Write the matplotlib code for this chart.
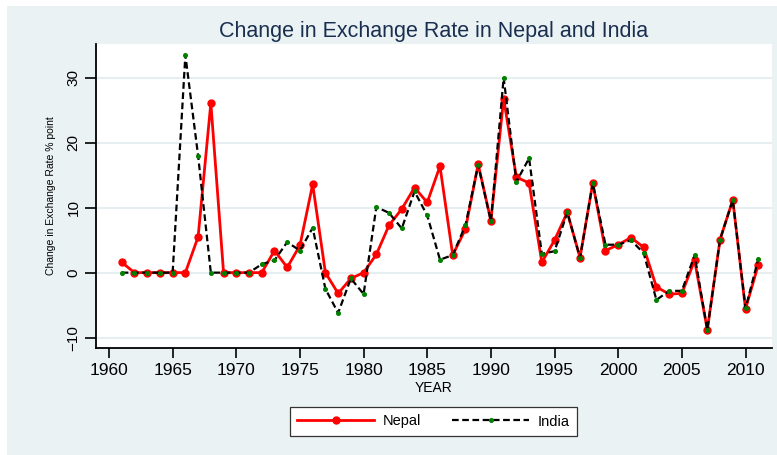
import matplotlib
matplotlib.use("Agg")
import matplotlib.pyplot as plt
from matplotlib.patches import Rectangle

years = list(range(1961, 2012))
nepal = [1.6, 0, 0, 0, 0, 0, 5.5, 26.1, 0, 0,
         0, 0, 3.4, 0.8, 4.2, 13.6, 0, -3.2, -0.9, 0,
         2.8, 7.3, 9.8, 13.1, 10.8, 16.4, 2.7, 6.7, 16.7, 8.0,
         26.8, 14.7, 13.8, 1.6, 5.0, 9.3, 2.3, 13.8, 3.4, 4.3,
         5.4, 3.9, -2.2, -3.3, -3.2, 1.9, -8.8, 5.1, 11.2, -5.6,
         1.2]
india = [0, 0, 0, 0, 0, 33.5, 18.0, 0, 0, 0,
         0, 1.3, 1.9, 4.7, 3.4, 6.9, -2.5, -6.2, -0.9, -3.3,
         10.1, 9.2, 6.8, 12.5, 8.8, 2.0, 2.7, 7.3, 16.6, 7.9,
         30.0, 14.0, 17.6, 2.9, 3.3, 9.3, 2.3, 13.8, 4.3, 4.3,
         5.0, 3.0, -4.2, -2.8, -2.8, 2.7, -8.8, 5.1, 11.2, -5.5,
         2.1]
xticks = [1960, 1965, 1970, 1975, 1980, 1985, 1990, 1995, 2000, 2005, 2010]
yticks = [-10, 0, 10, 20, 30]

plt.rcParams['font.family'] = ['Liberation Sans', 'DejaVu Sans']

W, H = 777, 455
fig = plt.figure(figsize=(W / 100, H / 100), dpi=100)
fig.patch.set_facecolor('white')
fig.patches.append(Rectangle((7 / W, 0), 1 - 7 / W, 1 - 6 / H,
                             transform=fig.transFigure, facecolor='#eaf2f3',
                             edgecolor='none', zorder=-10))

ax = fig.add_axes([96 / W, 1 - 348 / H, (772 - 96) / W, (348 - 44) / H])
ax.set_facecolor('white')

ax.plot(years, nepal, color='#ff0000', lw=2.0, marker='o', markersize=5,
        markerfacecolor='#ff0000', markeredgecolor='#ff0000', label='Nepal', zorder=3)
ax.plot(years, india, color='black', lw=1.6, linestyle=(0, (3, 1.6)),
        marker='o', markersize=2.6, markerfacecolor='#008000',
        markeredgecolor='#008000', label='India', zorder=4)

ax.set_xlim(1958.98, 2012.08)
ax.set_ylim(-11.6, 35.2)
ax.set_xticks(xticks)
ax.set_yticks(yticks)
ax.yaxis.grid(True, color='#e6eef1', lw=1.5)
ax.set_axisbelow(True)

for s in ['top', 'right']:
    ax.spines[s].set_visible(False)
for s in ['left', 'bottom']:
    ax.spines[s].set_color('black')
    ax.spines[s].set_linewidth(1.3)

ax.tick_params(axis='x', direction='out', length=7, width=1.2, labelsize=12.5, pad=4)
ax.tick_params(axis='y', direction='out', length=8, width=1.2, labelsize=11, pad=3)
for lab in ax.get_yticklabels():
    lab.set_rotation(90)
    lab.set_va('center')

ax.set_xlabel('YEAR', fontsize=10, labelpad=2)
ax.set_ylabel('Change in Exchange Rate % point', fontsize=7.5, labelpad=8)

fig.text(434 / W, 1 - 32 / H, 'Change in Exchange Rate in Nepal and India',
         ha='center', va='center', fontsize=15.5, color='#1a2e50')

leg = ax.legend(loc='center', bbox_to_anchor=(433.5 / W, 1 - 421.5 / H),
                bbox_transform=fig.transFigure, ncol=2, fontsize=10.5,
                frameon=True, fancybox=False, edgecolor='#333333',
                framealpha=1, handlelength=5.3, handletextpad=0.6,
                columnspacing=2.1, numpoints=1, borderpad=0.5)
leg.get_frame().set_linewidth(0.9)

fig.savefig('out.png', dpi=100, facecolor=fig.get_facecolor())
